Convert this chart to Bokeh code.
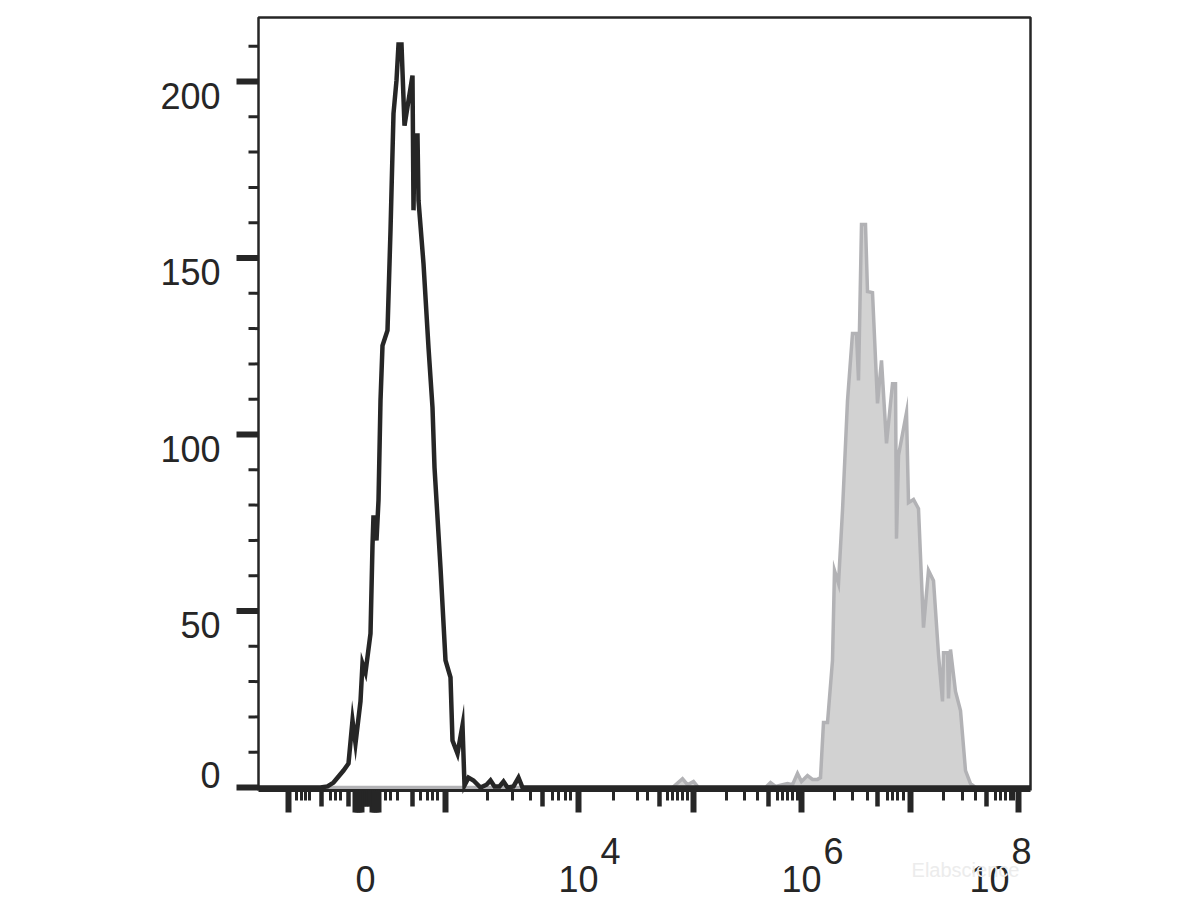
from bokeh.plotting import figure
from bokeh.models import Range1d, Label
from bokeh.embed import file_html
from bokeh.resources import INLINE
from bokeh.core.properties import value
import math

# ---------------- data (x in display channels of the biexponential axis, y in counts)
black_x = [0, 62, 69, 75, 85, 90, 94, 97, 102, 104, 107, 112, 114, 115, 118, 120, 122, 124, 129, 132,
           135, 138, 140, 143, 146, 154, 155, 156, 159, 160, 165, 170, 174, 176, 182, 187, 192, 194, 199, 204,
           206, 210, 215, 222, 228, 232, 236, 241, 245, 249, 255, 260, 264, 772]
black_y = [0, 0, 0.3, 1.4, 4.8, 6.8, 19.0, 12.5, 24.4, 35.1, 32.6, 43.6, 68.6, 77.1, 70.0, 81.3, 109.6, 125.2, 129.5, 157.8,
           190.9, 200.3, 210.5, 210.5, 187.5, 201.7, 163.5, 184.7, 184.7, 166.3, 148.4, 124.6, 107.6, 90.7, 62.3, 36.0, 31.2, 13.3, 9.6, 17.6,
           0.6, 2.8, 2.0, 0, 0.8, 2.0, 0.3, 0.3, 1.7, 0, 0.3, 2.8, 0, 0]

gray_x = [0, 414, 424, 429, 435, 440, 507, 512, 517, 524, 529, 534, 539, 543, 549, 554, 559, 562, 565, 569,
          574, 576, 580, 584, 589, 594, 598, 600, 603, 607, 609, 614, 619, 623, 628, 634, 637, 638, 640, 648,
          650, 655, 660, 665, 670, 675, 680, 684, 685, 689, 690, 692, 697, 702, 707, 712, 717, 772]
gray_y = [0, 0, 2.5, 0.8, 1.7, 0, 0, 1.4, 0.3, 0.8, 1.1, 0.8, 4.0, 1.7, 3.4, 2.3, 2.3, 2.8, 18.4, 18.4,
          36.0, 61.5, 57.8, 78.5, 109.6, 128.6, 128.6, 115.3, 159.5, 159.5, 140.5, 140.2, 108.8, 121.0, 97.5, 114.4, 114.4, 70.5, 94.1, 106.2,
          80.7, 81.6, 79.0, 45.3, 61.5, 58.6, 37.7, 24.4, 38.2, 38.2, 25.2, 39.1, 27.2, 21.8, 4.8, 1.1, 0, 0]

# axis structure
x_end = 772
y_top = 218.1
y_major = [0, 50, 100, 150, 200]
y_major_labels = ["0", "50", "100", "150", "200"]
y_minor = [10, 20, 30, 40, 60, 70, 80, 90, 110, 120, 130, 140, 160, 170, 180, 190, 210]

x_tall = [30, 97, 99, 101, 103, 114, 116, 118, 120, 187, 320, 435, 543, 652, 760]
x_mid = [63, 90, 105, 107, 109, 111, 154, 284, 401, 510, 619, 728]
x_minor = [38, 43, 47, 51, 72, 77, 82, 127, 132, 139, 162, 169, 174, 179, 229, 254, 272, 294, 300, 307, 312,
           355, 379, 389, 409, 414, 419, 424, 429, 468, 486, 499, 519, 524, 529, 534, 539,
           576, 594, 609, 629, 634, 639, 645, 685, 704, 717, 737, 742, 747, 752, 755]
x_label_pos = [107, 320, 543, 731]
x_label_base = ["0", "10", "10", "10"]
x_label_exp = ["", "4", "6", "8"]

# ---------------- layout constants
W, H = 1192, 900
X0_PX = 258          # frame px of channel 0
Y0_PX = 787          # frame px (from top) of count 0
PX_PER_COUNT = 3.53
AXIS_OFF = -3 / PX_PER_COUNT   # x axis line a bit below zero count

INK = "#262626"
FONT = value("Liberation Sans")
FS = "36px"

p = figure(width=W, height=H,
           x_range=Range1d(-X0_PX, W - X0_PX),
           y_range=Range1d(-(H - Y0_PX) / PX_PER_COUNT, Y0_PX / PX_PER_COUNT),
           output_backend="svg", toolbar_location=None,
           x_axis_location=None, y_axis_location=None,
           min_border=0, min_border_left=0, min_border_right=0,
           min_border_top=0, min_border_bottom=0)
p.grid.visible = False
p.outline_line_color = None
p.background_fill_color = "white"
p.border_fill_color = "white"

# gray filled histogram
p.varea(x=gray_x, y1=[0] * len(gray_x), y2=gray_y, fill_color="#d2d2d2")
p.line(gray_x, gray_y, line_color="#b2b2b5", line_width=3.5, line_join="miter")

# black outline histogram
p.line(black_x, black_y, line_color=INK, line_width=4.5, line_join="miter")

# frame: left axis, top, right
p.line([0, 0, x_end, x_end], [AXIS_OFF, y_top, y_top, AXIS_OFF], line_color=INK, line_width=2.5)
# x axis line
p.line([0, x_end], [AXIS_OFF, AXIS_OFF], line_color=INK, line_width=3)

# x ticks
p.ray(x=x_tall, y=[AXIS_OFF] * len(x_tall), length=22, length_units="screen",
      angle=-math.pi / 2, line_color=INK, line_width=6)
p.ray(x=x_mid, y=[AXIS_OFF] * len(x_mid), length=16, length_units="screen",
      angle=-math.pi / 2, line_color=INK, line_width=4.5)
p.ray(x=x_minor, y=[AXIS_OFF] * len(x_minor), length=10, length_units="screen",
      angle=-math.pi / 2, line_color=INK, line_width=3)

# y ticks
p.ray(x=[0] * len(y_major), y=y_major, length=22, length_units="screen",
      angle=math.pi, line_color=INK, line_width=6)
p.ray(x=[0] * len(y_minor), y=y_minor, length=10, length_units="screen",
      angle=math.pi, line_color=INK, line_width=3)

# y tick labels (sit below their ticks, zero above)
p.text(x=[0] * 4, y=y_major[1:], text=y_major_labels[1:], x_offset=-38, y_offset=14,
       text_align="right", text_baseline="middle", text_font=FONT,
       text_font_size=FS, text_color=INK)
p.text(x=[0], y=y_major[:1], text=y_major_labels[:1], x_offset=-38, y_offset=-13,
       text_align="right", text_baseline="middle", text_font=FONT,
       text_font_size=FS, text_color=INK)

# x tick labels with superscript exponents
p.text(x=x_label_pos, y=[AXIS_OFF] * len(x_label_pos), text=x_label_base, y_offset=88,
       text_align="center", text_baseline="middle", text_font=FONT,
       text_font_size=FS, text_color=INK)
p.text(x=x_label_pos, y=[AXIS_OFF] * len(x_label_pos), text=x_label_exp, x_offset=22, y_offset=60,
       text_align="left", text_baseline="middle", text_font=FONT,
       text_font_size=FS, text_color=INK)

# faint watermark
p.add_layout(Label(x=965, y=31, x_units="screen", y_units="screen", text="Elabscience",
                   text_align="center", text_baseline="middle", text_font_size="20px",
                   text_font="Liberation Sans", text_color="#ececec"))

open("out.html", "w").write(file_html(p, INLINE))
